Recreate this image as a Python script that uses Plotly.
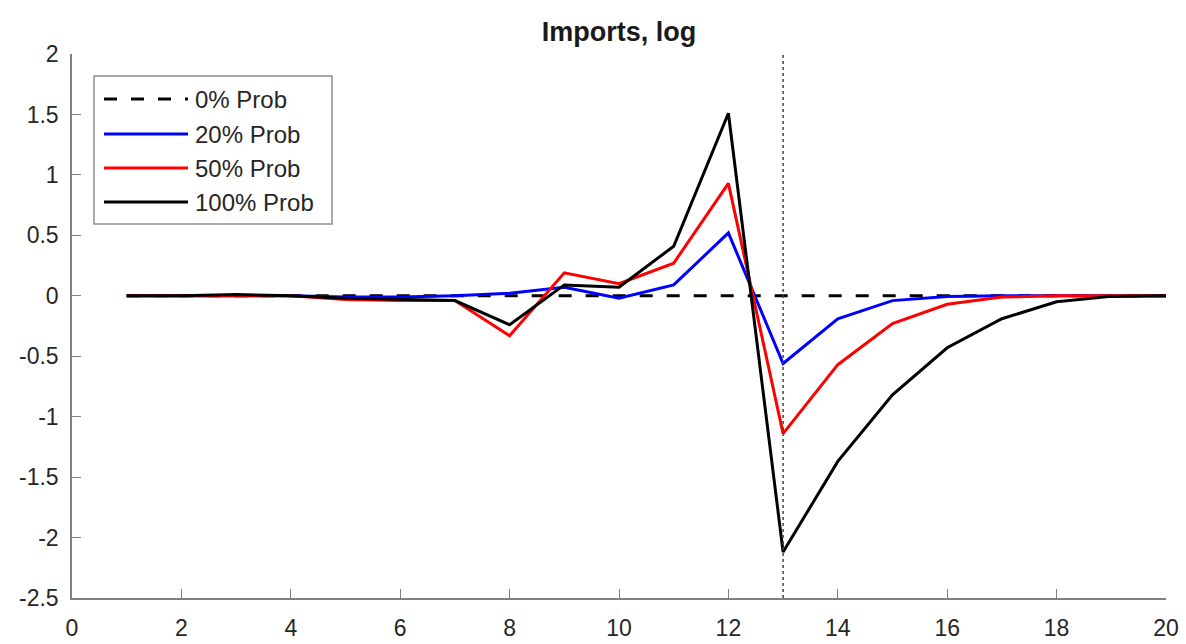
import plotly.graph_objects as go

# ---- data ----
periods = list(range(1, 21))
prob0 = [0.0] * 20
prob20 = [0.0, 0.0, 0.0, 0.0, -0.01, -0.01, 0.0, 0.02, 0.07, -0.02,
          0.09, 0.52, -0.56, -0.19, -0.04, -0.005, 0.0, 0.0, 0.0, 0.0]
prob50 = [0.0, 0.0, 0.0, 0.0, -0.03, -0.04, -0.04, -0.33, 0.19, 0.10,
          0.27, 0.93, -1.14, -0.57, -0.23, -0.07, -0.01, 0.0, 0.0, 0.0]
prob100 = [0.0, 0.0, 0.01, 0.0, -0.02, -0.03, -0.04, -0.24, 0.09, 0.07,
           0.41, 1.51, -2.12, -1.37, -0.82, -0.43, -0.19, -0.05, -0.005, 0.0]
series_names = ["0% Prob", "20% Prob", "50% Prob", "100% Prob"]
vline_x = 13
xtick_vals = [0, 2, 4, 6, 8, 10, 12, 14, 16, 18, 20]
xtick_text = ["0", "2", "4", "6", "8", "10", "12", "14", "16", "18", "20"]
ytick_vals = [-2.5, -2, -1.5, -1, -0.5, 0, 0.5, 1, 1.5, 2]
ytick_text = ["-2.5", "-2", "-1.5", "-1", "-0.5", "0", "0.5", "1", "1.5", "2"]
title_text = "<b>Imports, log</b>"

# ---- layout geometry (pixels) ----
FIG_W, FIG_H = 1186, 644
L, R, T, B = 72, 1166, 54, 598
W, H = R - L, B - T


def px(xp):
    return (xp - L) / W


def py(yp):
    return (B - yp) / H


FONT = "Liberation Sans, Arial, Helvetica, sans-serif"
DASH = "13px,14px"
styles = [
    dict(color="black", width=3, dash=DASH),
    dict(color="#0000ff", width=3),
    dict(color="#ff0000", width=3),
    dict(color="black", width=3),
]
all_series = [prob0, prob20, prob50, prob100]

fig = go.Figure()
for name, ys, st in zip(series_names, all_series, styles):
    fig.add_trace(go.Scatter(x=periods, y=ys, mode="lines", name=name,
                             line=st, showlegend=False))

shapes = []
# vertical dotted line
shapes.append(dict(type="line", xref="x", yref="paper", x0=vline_x, x1=vline_x,
                   y0=0, y1=1, line=dict(color="#444444", width=1.5, dash="dot")))
# custom legend box
shapes.append(dict(type="rect", xref="paper", yref="paper",
                   x0=px(94), x1=px(332), y0=py(224), y1=py(76),
                   line=dict(color="#8c8c8c", width=1.5), fillcolor="white"))
annotations = []
rows = [99, 134, 168, 202]
for name, st, ry in zip(series_names, styles, rows):
    shapes.append(dict(type="line", xref="paper", yref="paper",
                       x0=px(104), x1=px(188), y0=py(ry), y1=py(ry), line=st))
    annotations.append(dict(xref="paper", yref="paper", x=px(193), y=py(ry),
                            xanchor="left", yanchor="middle", text=name,
                            showarrow=False,
                            font=dict(family=FONT, size=24, color="#262626")))

fig.update_layout(
    width=FIG_W, height=FIG_H,
    margin=dict(l=L, r=FIG_W - R, t=T, b=FIG_H - B, pad=0, autoexpand=False),
    plot_bgcolor="white", paper_bgcolor="white",
    title=dict(text=title_text, x=px((L + R) / 2), xref="paper",
               y=1 - 32 / FIG_H, yref="container", xanchor="center",
               yanchor="middle",
               font=dict(family=FONT, size=27, color="#1a1a1a")),
    shapes=shapes, annotations=annotations,
    showlegend=False,
)
axis_common = dict(showgrid=False, zeroline=False, showline=True,
                   linecolor="#808080", linewidth=1.5, ticks="inside",
                   ticklen=9, tickwidth=1.3, tickcolor="#808080", mirror=False,
                   automargin=False,
                   tickfont=dict(family=FONT, size=23, color="#262626"))
fig.update_xaxes(range=[0, 20], tickvals=xtick_vals, ticktext=xtick_text,
                 ticklabelstandoff=9, **axis_common)
fig.update_yaxes(range=[-2.5, 2], tickvals=ytick_vals, ticktext=ytick_text,
                 ticklabelstandoff=7, **axis_common)

fig.write_html("out.html")
